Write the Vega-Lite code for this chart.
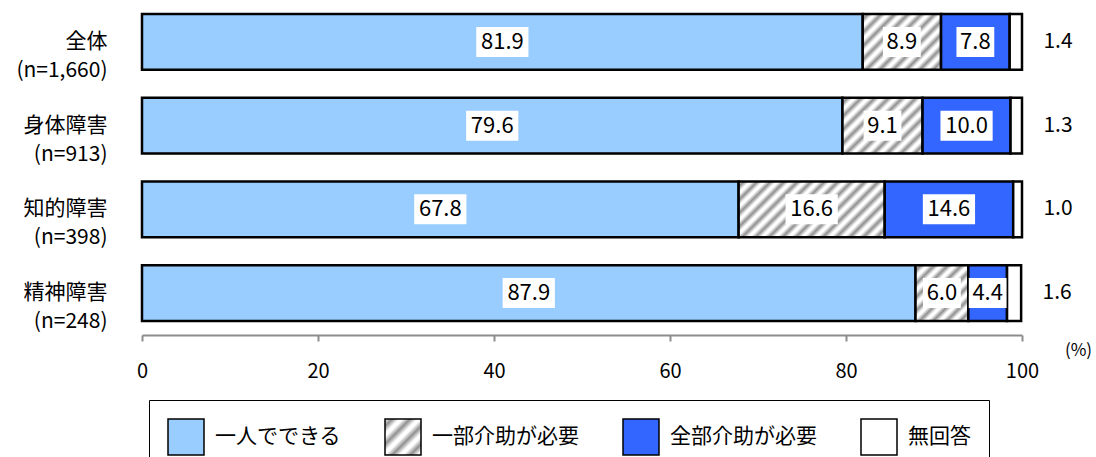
{
  "$schema": "https://vega.github.io/schema/vega-lite/v6.json",
  "width": 880,
  "height": 335,
  "autosize": "none",
  "padding": {"left": 142, "top": 0, "right": 74, "bottom": 122},
  "background": "white",
  "config": {
    "font": "Noto Sans CJK JP",
    "view": {"stroke": null},
    "text": {"font": "Noto Sans CJK JP"}
  },
  "data": {
    "values": [
      {"group": "全体", "label": "全体 (n=1,660)", "cat": "一人でできる", "ord": 1, "value": 81.9},
      {"group": "全体", "label": "全体 (n=1,660)", "cat": "一部介助が必要", "ord": 2, "value": 8.9},
      {"group": "全体", "label": "全体 (n=1,660)", "cat": "全部介助が必要", "ord": 3, "value": 7.8},
      {"group": "全体", "label": "全体 (n=1,660)", "cat": "無回答", "ord": 4, "value": 1.4},
      {"group": "身体障害", "label": "身体障害 (n=913)", "cat": "一人でできる", "ord": 1, "value": 79.6},
      {"group": "身体障害", "label": "身体障害 (n=913)", "cat": "一部介助が必要", "ord": 2, "value": 9.1},
      {"group": "身体障害", "label": "身体障害 (n=913)", "cat": "全部介助が必要", "ord": 3, "value": 10.0},
      {"group": "身体障害", "label": "身体障害 (n=913)", "cat": "無回答", "ord": 4, "value": 1.3},
      {"group": "知的障害", "label": "知的障害 (n=398)", "cat": "一人でできる", "ord": 1, "value": 67.8},
      {"group": "知的障害", "label": "知的障害 (n=398)", "cat": "一部介助が必要", "ord": 2, "value": 16.6},
      {"group": "知的障害", "label": "知的障害 (n=398)", "cat": "全部介助が必要", "ord": 3, "value": 14.6},
      {"group": "知的障害", "label": "知的障害 (n=398)", "cat": "無回答", "ord": 4, "value": 1.0},
      {"group": "精神障害", "label": "精神障害 (n=248)", "cat": "一人でできる", "ord": 1, "value": 87.9},
      {"group": "精神障害", "label": "精神障害 (n=248)", "cat": "一部介助が必要", "ord": 2, "value": 6.0},
      {"group": "精神障害", "label": "精神障害 (n=248)", "cat": "全部介助が必要", "ord": 3, "value": 4.4},
      {"group": "精神障害", "label": "精神障害 (n=248)", "cat": "無回答", "ord": 4, "value": 1.6}
    ]
  },
  "transform": [
    {"stack": "value", "groupby": ["label"], "sort": [{"field": "ord", "order": "ascending"}], "as": ["x0", "x1"]},
    {"calculate": "(datum.x0 + datum.x1) / 2", "as": "mid"}
  ],
  "encoding": {
    "y": {
      "field": "label",
      "type": "nominal",
      "sort": null,
      "scale": {"paddingInner": 0.333, "paddingOuter": 0.1667},
      "axis": {
        "title": null,
        "domain": false,
        "ticks": false,
        "labelExpr": "split(datum.label, ' ')",
        "labelFont": "Noto Sans CJK JP",
        "labelFontSize": 21,
        "labelColor": "black",
        "labelLineHeight": 29,
        "labelAlign": "right",
        "labelBaseline": "middle",
        "labelPadding": 35,
        "labelLimit": 200
      }
    }
  },
  "layer": [
    {
      "mark": {"type": "bar", "stroke": "black", "strokeWidth": 2.5},
      "encoding": {
        "x": {
          "field": "x0",
          "type": "quantitative",
          "scale": {"domain": [0, 100], "nice": false},
          "axis": {
            "values": [0, 20, 40, 60, 80, 100],
            "grid": false,
            "domainColor": "#8c8c8c",
            "domainWidth": 2,
            "tickColor": "#8c8c8c",
            "tickWidth": 2,
            "tickSize": 6,
            "labelFlush": false,
            "labelFont": "Noto Sans CJK JP",
            "labelFontSize": 20,
            "labelColor": "black",
            "labelPadding": 20,
            "title": "(%)",
            "titleFont": "Noto Sans CJK JP",
            "titleFontSize": 17,
            "titleFontWeight": "normal",
            "titleColor": "black",
            "titleX": 936,
            "titleY": 15,
            "titleAlign": "center",
            "titleBaseline": "middle"
          }
        },
        "x2": {"field": "x1"},
        "fill": {
          "field": "cat",
          "type": "nominal",
          "scale": {
            "domain": ["一人でできる", "一部介助が必要", "全部介助が必要", "無回答"],
            "range": [
              "#99ccff",
              {"expr": "{gradient: 'linear', x1: 0, y1: 0, x2: 1, y2: 1, stops: [{offset: 0, color: '#ffffff'}, {offset: 0.1, color: '#909090'}, {offset: 0.2, color: '#ffffff'}, {offset: 0.25, color: '#ffffff'}, {offset: 0.35, color: '#909090'}, {offset: 0.45, color: '#ffffff'}, {offset: 0.5, color: '#ffffff'}, {offset: 0.6, color: '#909090'}, {offset: 0.7, color: '#ffffff'}, {offset: 0.75, color: '#ffffff'}, {offset: 0.85, color: '#909090'}, {offset: 0.95, color: '#ffffff'}, {offset: 1, color: '#ffffff'}]}"},
              "#3366ff",
              "#ffffff"
            ]
          },
          "condition": [
            {
              "test": "datum.cat === '一部介助が必要' && (datum.group === '全体' || datum.group === '身体障害')",
              "value": {
                "gradient": "linear", "x1": 0, "y1": 0, "x2": 1.138, "y2": 0.805,
                "stops": [
                  {"offset": 0, "color": "#ffffff"}, {"offset": 0.04, "color": "#909090"}, {"offset": 0.08, "color": "#ffffff"},
                  {"offset": 0.1, "color": "#ffffff"}, {"offset": 0.14, "color": "#909090"}, {"offset": 0.18, "color": "#ffffff"},
                  {"offset": 0.2, "color": "#ffffff"}, {"offset": 0.24, "color": "#909090"}, {"offset": 0.28, "color": "#ffffff"},
                  {"offset": 0.3, "color": "#ffffff"}, {"offset": 0.34, "color": "#909090"}, {"offset": 0.38, "color": "#ffffff"},
                  {"offset": 0.4, "color": "#ffffff"}, {"offset": 0.44, "color": "#909090"}, {"offset": 0.48, "color": "#ffffff"},
                  {"offset": 0.5, "color": "#ffffff"}, {"offset": 0.54, "color": "#909090"}, {"offset": 0.58, "color": "#ffffff"},
                  {"offset": 0.6, "color": "#ffffff"}, {"offset": 0.64, "color": "#909090"}, {"offset": 0.68, "color": "#ffffff"},
                  {"offset": 0.7, "color": "#ffffff"}, {"offset": 0.74, "color": "#909090"}, {"offset": 0.78, "color": "#ffffff"},
                  {"offset": 0.8, "color": "#ffffff"}, {"offset": 0.84, "color": "#909090"}, {"offset": 0.88, "color": "#ffffff"},
                  {"offset": 0.9, "color": "#ffffff"}, {"offset": 0.94, "color": "#909090"}, {"offset": 0.98, "color": "#ffffff"},
                  {"offset": 1, "color": "#ffffff"}
                ]
              }
            },
            {
              "test": "datum.cat === '一部介助が必要' && datum.group === '知的障害'",
              "value": {
                "gradient": "linear", "x1": 0, "y1": 0, "x2": 1.206, "y2": 0.462,
                "stops": [
                  {"offset": 0, "color": "#ffffff"}, {"offset": 0.0267, "color": "#909090"}, {"offset": 0.0533, "color": "#ffffff"},
                  {"offset": 0.0667, "color": "#ffffff"}, {"offset": 0.0933, "color": "#909090"}, {"offset": 0.12, "color": "#ffffff"},
                  {"offset": 0.1333, "color": "#ffffff"}, {"offset": 0.16, "color": "#909090"}, {"offset": 0.1867, "color": "#ffffff"},
                  {"offset": 0.2, "color": "#ffffff"}, {"offset": 0.2267, "color": "#909090"}, {"offset": 0.2533, "color": "#ffffff"},
                  {"offset": 0.2667, "color": "#ffffff"}, {"offset": 0.2933, "color": "#909090"}, {"offset": 0.32, "color": "#ffffff"},
                  {"offset": 0.3333, "color": "#ffffff"}, {"offset": 0.36, "color": "#909090"}, {"offset": 0.3867, "color": "#ffffff"},
                  {"offset": 0.4, "color": "#ffffff"}, {"offset": 0.4267, "color": "#909090"}, {"offset": 0.4533, "color": "#ffffff"},
                  {"offset": 0.4667, "color": "#ffffff"}, {"offset": 0.4933, "color": "#909090"}, {"offset": 0.52, "color": "#ffffff"},
                  {"offset": 0.5333, "color": "#ffffff"}, {"offset": 0.56, "color": "#909090"}, {"offset": 0.5867, "color": "#ffffff"},
                  {"offset": 0.6, "color": "#ffffff"}, {"offset": 0.6267, "color": "#909090"}, {"offset": 0.6533, "color": "#ffffff"},
                  {"offset": 0.6667, "color": "#ffffff"}, {"offset": 0.6933, "color": "#909090"}, {"offset": 0.72, "color": "#ffffff"},
                  {"offset": 0.7333, "color": "#ffffff"}, {"offset": 0.76, "color": "#909090"}, {"offset": 0.7867, "color": "#ffffff"},
                  {"offset": 0.8, "color": "#ffffff"}, {"offset": 0.8267, "color": "#909090"}, {"offset": 0.8533, "color": "#ffffff"},
                  {"offset": 0.8667, "color": "#ffffff"}, {"offset": 0.8933, "color": "#909090"}, {"offset": 0.92, "color": "#ffffff"},
                  {"offset": 0.9333, "color": "#ffffff"}, {"offset": 0.96, "color": "#909090"}, {"offset": 0.9867, "color": "#ffffff"},
                  {"offset": 1, "color": "#ffffff"}
                ]
              }
            },
            {
              "test": "datum.cat === '一部介助が必要' && datum.group === '精神障害'",
              "value": {
                "gradient": "linear", "x1": 0, "y1": 0, "x2": 0.970, "y2": 1.029,
                "stops": [
                  {"offset": 0, "color": "#ffffff"}, {"offset": 0.05, "color": "#909090"}, {"offset": 0.1, "color": "#ffffff"},
                  {"offset": 0.125, "color": "#ffffff"}, {"offset": 0.175, "color": "#909090"}, {"offset": 0.225, "color": "#ffffff"},
                  {"offset": 0.25, "color": "#ffffff"}, {"offset": 0.3, "color": "#909090"}, {"offset": 0.35, "color": "#ffffff"},
                  {"offset": 0.375, "color": "#ffffff"}, {"offset": 0.425, "color": "#909090"}, {"offset": 0.475, "color": "#ffffff"},
                  {"offset": 0.5, "color": "#ffffff"}, {"offset": 0.55, "color": "#909090"}, {"offset": 0.6, "color": "#ffffff"},
                  {"offset": 0.625, "color": "#ffffff"}, {"offset": 0.675, "color": "#909090"}, {"offset": 0.725, "color": "#ffffff"},
                  {"offset": 0.75, "color": "#ffffff"}, {"offset": 0.8, "color": "#909090"}, {"offset": 0.85, "color": "#ffffff"},
                  {"offset": 0.875, "color": "#ffffff"}, {"offset": 0.925, "color": "#909090"}, {"offset": 0.975, "color": "#ffffff"},
                  {"offset": 1, "color": "#ffffff"}
                ]
              }
            }
          ],
          "legend": {
            "orient": "none",
            "legendX": 7,
            "legendY": 400,
            "direction": "horizontal",
            "title": null,
            "symbolType": "square",
            "symbolSize": 1296,
            "symbolOpacity": 1,
            "labelFont": "Noto Sans CJK JP",
            "labelFontSize": 21,
            "labelColor": "black",
            "labelOffset": 10,
            "labelLimit": 300,
            "columnPadding": 41,
            "padding": 18,
            "strokeColor": "black",
            "fillColor": "white",
            "encode": {
              "legend": {"strokeWidth": {"value": 2}},
              "symbols": {
                "stroke": {"value": "black"},
                "strokeWidth": {"value": 2}
              }
            }
          }
        }
      }
    },
    {
      "transform": [{"filter": "datum.cat !== '無回答'"}],
      "mark": {"type": "point", "filled": true, "color": "white", "opacity": 1, "strokeWidth": 0, "size": 3600},
      "encoding": {
        "x": {"field": "mid", "type": "quantitative"},
        "shape": {
          "condition": {"test": "datum.value >= 10", "value": "M-0.87,-0.5H0.87V0.5H-0.87Z"},
          "value": "M-0.63,-0.5H0.63V0.5H-0.63Z"
        }
      }
    },
    {
      "transform": [{"filter": "datum.cat !== '無回答'"}],
      "mark": {"type": "text", "font": "Noto Sans CJK JP", "fontSize": 22, "color": "black", "baseline": "middle", "align": "center"},
      "encoding": {
        "x": {"field": "mid", "type": "quantitative"},
        "text": {"field": "value", "type": "quantitative", "format": ".1f"}
      }
    },
    {
      "transform": [{"filter": "datum.cat === '無回答'"}],
      "mark": {"type": "text", "font": "Noto Sans CJK JP", "fontSize": 21, "color": "black", "baseline": "middle", "align": "center", "dx": 36},
      "encoding": {
        "x": {"field": "x1", "type": "quantitative"},
        "text": {"field": "value", "type": "quantitative", "format": ".1f"}
      }
    }
  ]
}
